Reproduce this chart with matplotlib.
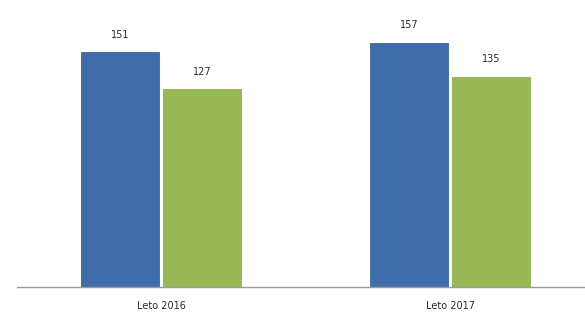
import matplotlib
matplotlib.use("Agg")
import matplotlib.pyplot as plt
import numpy as np

categories = ["Leto 2016", "Leto 2017"]
series_a = [151, 157]
series_b = [127, 135]

fig = plt.figure(figsize=(5.85, 3.17), dpi=100)
ax = fig.add_axes([16.5/585, 30/317, 578/585, 280/317])

x = np.arange(len(categories))
w = 0.272
off = 0.1425
ba = ax.bar(x - off, series_a, w, color="#3f6cab", edgecolor="#3a64a0", linewidth=0.6)
bb = ax.bar(x + off, series_b, w, color="#97b853", edgecolor="#8fae4d", linewidth=0.6)

for bars, vals in ((ba, series_a), (bb, series_b)):
    for r, v in zip(bars, vals):
        ax.annotate(str(v), (r.get_x() + r.get_width()/2, r.get_height()),
                    xytext=(0, 9), textcoords="offset points",
                    ha="center", va="bottom", fontsize=7, color="#2a2a2a")

ax.set_xlim(-0.5, 1.5)
ax.set_ylim(0, 180)
ax.set_xticks(x)
ax.set_xticklabels(categories, fontsize=7, color="#2a2a2a")
ax.tick_params(axis="x", length=0, pad=10)
ax.set_yticks([])
for s in ("top", "right", "left"):
    ax.spines[s].set_visible(False)
ax.spines["bottom"].set_color("#9a9a9a")
ax.spines["bottom"].set_linewidth(1.0)

fig.savefig("out.png", dpi=100)
